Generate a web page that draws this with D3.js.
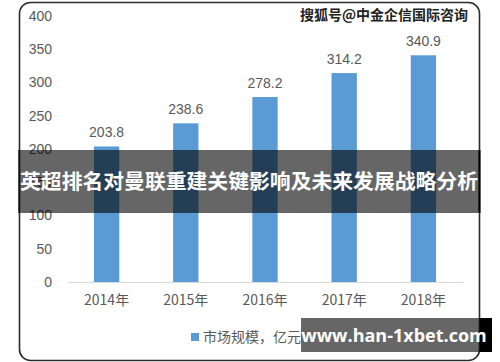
<!DOCTYPE html>
<html>
<head>
<meta charset="utf-8">
<script src="https://cdn.jsdelivr.net/npm/d3@7"></script>
<style>
  body { margin: 0; background: #fff; }
  svg { display: block; }
</style>
</head>
<body>
<svg id="area" width="500" height="362"></svg>
<script>
// chart data
const years = ["2014年", "2015年", "2016年", "2017年", "2018年"];
const marketSize = [203.8, 238.6, 278.2, 314.2, 340.9];
const yTicks = [0, 50, 100, 150, 200, 250, 300, 350, 400];
const legendLabel = "市场规模，亿元";
const titleText = "英超排名对曼联重建关键影响及未来发展战略分析";
const sourceText = "搜狐号@中金企信国际咨询";
const siteText = "www.han-1xbet.com";

const svg = d3.select("#area");
const latin = "'Liberation Sans', Arial, sans-serif";
const cjk = "'Noto Sans CJK SC', 'Liberation Sans', sans-serif";

const x = d3.scaleBand().domain(years).range([67, 463]).paddingInner(0.68).paddingOuter(0.34);
const y = d3.scaleLinear().domain([0, 400]).range([282, 16]);

// outer frame
svg.append("rect")
  .attr("x", 19.5).attr("y", 2.5)
  .attr("width", 460).attr("height", 358)
  .attr("rx", 11)
  .attr("fill", "#fff")
  .attr("stroke", "#2b2b2b")
  .attr("stroke-width", 1.6);

// y axis labels (no line)
svg.append("g")
  .selectAll("text")
  .data(yTicks)
  .join("text")
  .attr("x", 52)
  .attr("y", d => y(d))
  .attr("dy", "0.35em")
  .attr("text-anchor", "end")
  .attr("font-family", latin)
  .attr("font-size", 14)
  .attr("fill", "#595959")
  .text(d => d);

// bars
svg.append("g")
  .selectAll("rect")
  .data(marketSize)
  .join("rect")
  .attr("x", (d, i) => x(years[i]))
  .attr("y", d => y(d))
  .attr("width", x.bandwidth())
  .attr("height", d => y(0) - y(d))
  .attr("fill", "#5b9bd5");

// value labels
svg.append("g")
  .selectAll("text")
  .data(marketSize)
  .join("text")
  .attr("x", (d, i) => x(years[i]) + x.bandwidth() / 2)
  .attr("y", d => y(d) - 9)
  .attr("text-anchor", "middle")
  .attr("font-family", latin)
  .attr("font-size", 14)
  .attr("fill", "#595959")
  .text(d => d.toFixed(1));

// x axis
const xAxis = svg.append("g")
  .attr("transform", "translate(0," + y(0) + ")")
  .call(d3.axisBottom(x).tickSize(0).tickPadding(13));
xAxis.select(".domain").attr("stroke", "#d9d9d9").attr("stroke-width", 1.2);
xAxis.selectAll("text")
  .attr("font-family", cjk)
  .attr("font-size", 14)
  .attr("fill", "#595959");

// legend
svg.append("rect")
  .attr("x", 191).attr("y", 333)
  .attr("width", 8).attr("height", 8)
  .attr("fill", "#5b9bd5");
svg.append("text")
  .attr("x", 203).attr("y", 337)
  .attr("dy", "0.35em")
  .attr("font-family", cjk)
  .attr("font-size", 14)
  .attr("fill", "#595959")
  .text(legendLabel);

// source watermark
svg.append("text")
  .attr("x", 468).attr("y", 15)
  .attr("dy", "0.35em")
  .attr("text-anchor", "end")
  .attr("font-family", cjk)
  .attr("font-size", 14)
  .attr("font-weight", "bold")
  .attr("fill", "#222")
  .attr("stroke", "#fff")
  .attr("stroke-width", 0.6)
  .attr("paint-order", "stroke")
  .text(sourceText);

// title banner overlay
svg.append("rect")
  .attr("x", 18).attr("y", 150)
  .attr("width", 462).attr("height", 63)
  .attr("fill", "rgba(0,0,0,0.6)");
svg.append("text")
  .attr("x", 249).attr("y", 182)
  .attr("dy", "0.35em")
  .attr("text-anchor", "middle")
  .attr("font-family", cjk)
  .attr("font-size", 20.8)
  .attr("font-weight", "bold")
  .attr("fill", "#fff")
  .attr("textLength", 458)
  .attr("lengthAdjust", "spacingAndGlyphs")
  .text(titleText);

// site banner overlay
svg.append("rect")
  .attr("x", 301).attr("y", 318)
  .attr("width", 179).attr("height", 34)
  .attr("fill", "rgba(0,0,0,0.6)");
svg.append("rect")
  .attr("x", 480).attr("y", 318)
  .attr("width", 12).attr("height", 34)
  .attr("fill", "#000");
svg.append("text")
  .attr("x", 394).attr("y", 336)
  .attr("dy", "0.35em")
  .attr("text-anchor", "middle")
  .attr("font-family", "'Open Sans', 'Liberation Sans', sans-serif")
  .attr("font-size", 18)
  .attr("font-weight", "bold")
  .attr("fill", "#fff")
  .text(siteText);

// frame edge drawn over the overlays on the right
svg.append("line")
  .attr("x1", 479.5).attr("x2", 479.5)
  .attr("y1", 150).attr("y2", 213)
  .attr("stroke", "#000").attr("stroke-width", 2);
</script>
</body>
</html>
